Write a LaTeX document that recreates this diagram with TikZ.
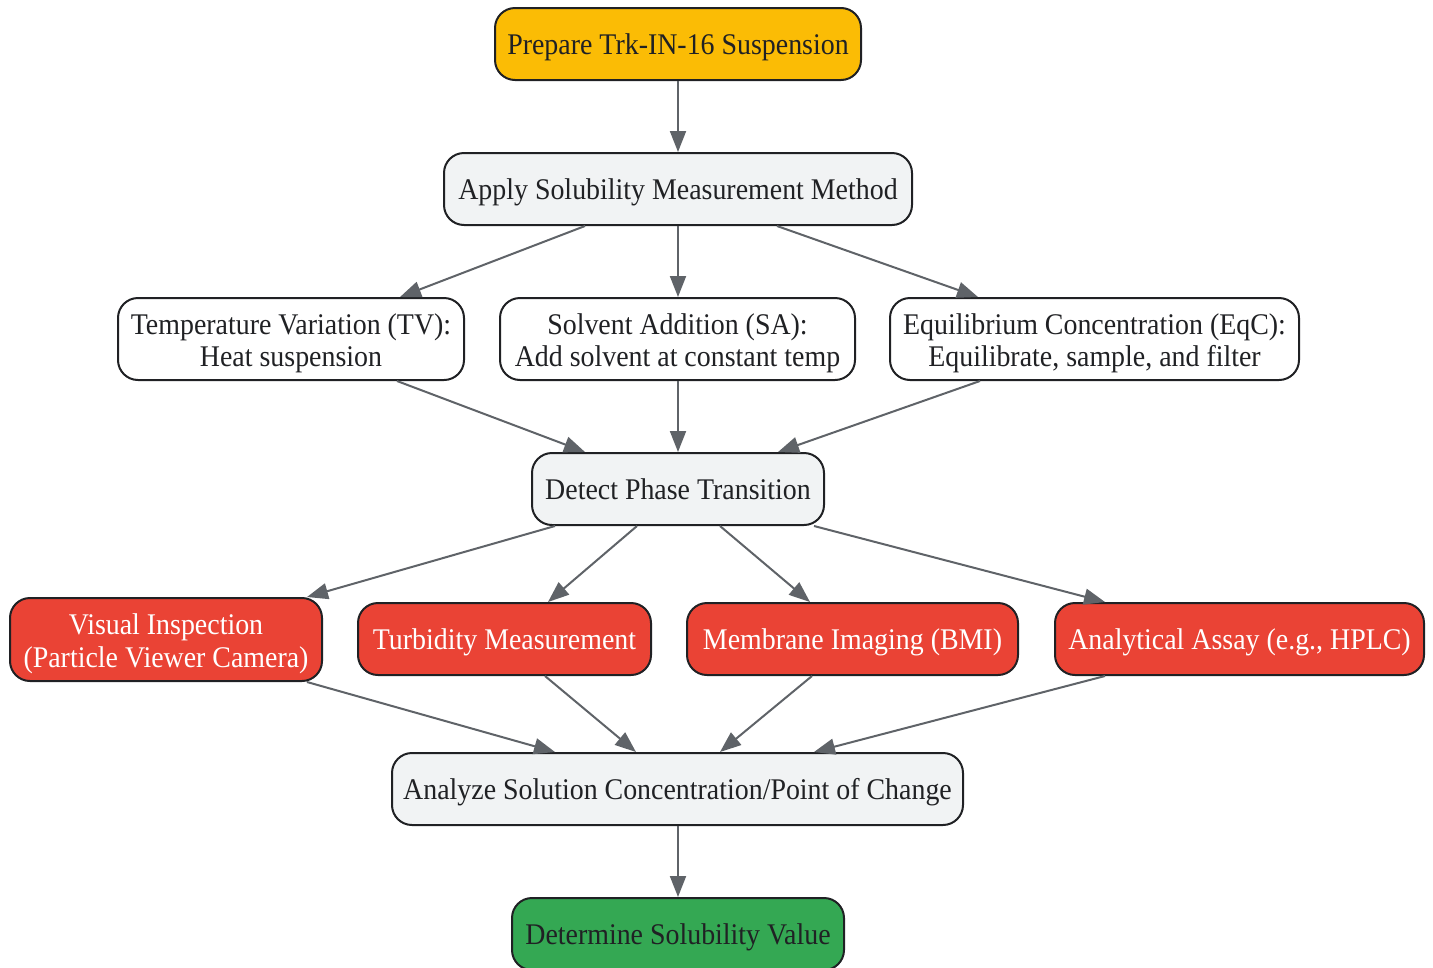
\documentclass[tikz,border=0pt]{standalone}
\usepackage{fontspec}
\setmainfont[FakeStretch=0.93]{Liberation Serif}
\usetikzlibrary{arrows.meta,calc}
\definecolor{ylw}{HTML}{FBBC05}
\definecolor{gry}{HTML}{F1F3F4}
\definecolor{rd}{HTML}{EA4335}
\definecolor{grn}{HTML}{34A853}
\definecolor{edge}{HTML}{5F6368}
\definecolor{ink}{HTML}{202124}
\tikzset{
  box/.style={draw=ink, line width=2pt, rounded corners=20pt, inner sep=0pt, align=center,
    font=\fontsize{30}{32.5}\selectfont, text=ink, text depth=0pt, text height=21pt},
  two/.style={text height=55pt},
  lightbox/.style={box, fill=gry},
  whitebox/.style={box, fill=white},
  redbox/.style={box, fill=rd, text=white},
  conn/.style={draw=edge, line width=2pt, -{Triangle[length=21pt,width=16pt]}}
}
\begin{document}
\begin{tikzpicture}[x=1pt,y=-1pt]
\useasboundingbox (0,0) rectangle (1433,967);
\node[box, fill=ylw, minimum width=366pt, minimum height=72pt] (prep) at (678,44) {Prepare Trk-IN-16 Suspension};
\node[lightbox, minimum width=468pt, minimum height=72pt] (apply) at (678,189) {Apply Solubility Measurement Method};
\node[whitebox, two, minimum width=346pt, minimum height=82pt] (tv) at (291,339) {Temperature Variation (TV):\\Heat suspension};
\node[whitebox, two, minimum width=355pt, minimum height=82pt] (sa) at (677.5,339) {Solvent Addition (SA):\\Add solvent at constant temp};
\node[whitebox, two, minimum width=409pt, minimum height=82pt] (eqc) at (1094.5,339) {Equilibrium Concentration (EqC):\\Equilibrate, sample, and filter};
\node[lightbox, minimum width=292pt, minimum height=72pt] (detect) at (678,489) {Detect Phase Transition};
\node[redbox, two, minimum width=312pt, minimum height=83pt] (vis) at (166,639.5) {Visual Inspection\\(Particle Viewer Camera)};
\node[redbox, minimum width=293pt, minimum height=72pt] (turb) at (504.5,639) {Turbidity Measurement};
\node[redbox, minimum width=331pt, minimum height=72pt] (mem) at (852.5,639) {Membrane Imaging (BMI)};
\node[redbox, minimum width=369pt, minimum height=72pt] (ana) at (1239.5,639) {Analytical Assay (e.g., HPLC)};
\node[lightbox, minimum width=571pt, minimum height=72pt] (analyze) at (677.5,789) {Analyze Solution Concentration/Point of Change};
\node[box, fill=grn, minimum width=332pt, minimum height=72pt] (det) at (678,934) {Determine Solubility Value};

\draw[conn] (prep.south) -- (apply.north);
\draw[conn] ([xshift=-93pt]apply.south) -- ([xshift=109pt]tv.north);
\draw[conn] (apply.south) -- (sa.north -| apply.south);
\draw[conn] ([xshift=99pt]apply.south) -- ([xshift=-116.5pt]eqc.north);
\draw[conn] ([xshift=106pt]tv.south) -- ([xshift=-93pt]detect.north);
\draw[conn] (sa.south -| detect.north) -- (detect.north);
\draw[conn] ([xshift=-114.5pt]eqc.south) -- ([xshift=100pt]detect.north);
\draw[conn] ([xshift=-123pt]detect.south) -- ([xshift=141pt]vis.north);
\draw[conn] ([xshift=-41pt]detect.south) -- ([xshift=43.5pt]turb.north);
\draw[conn] ([xshift=42pt]detect.south) -- ([xshift=-42.5pt]mem.north);
\draw[conn] ([xshift=136pt]detect.south) -- ([xshift=-134.5pt]ana.north);
\draw[conn] ([xshift=141pt]vis.south) -- ([xshift=-122.5pt]analyze.north);
\draw[conn] ([xshift=40.5pt]turb.south) -- ([xshift=-41.5pt]analyze.north);
\draw[conn] ([xshift=-40.5pt]mem.south) -- ([xshift=42.5pt]analyze.north);
\draw[conn] ([xshift=-134.5pt]ana.south) -- ([xshift=136.5pt]analyze.north);
\draw[conn] (analyze.south -| det.north) -- (det.north);
\end{tikzpicture}
\end{document}
